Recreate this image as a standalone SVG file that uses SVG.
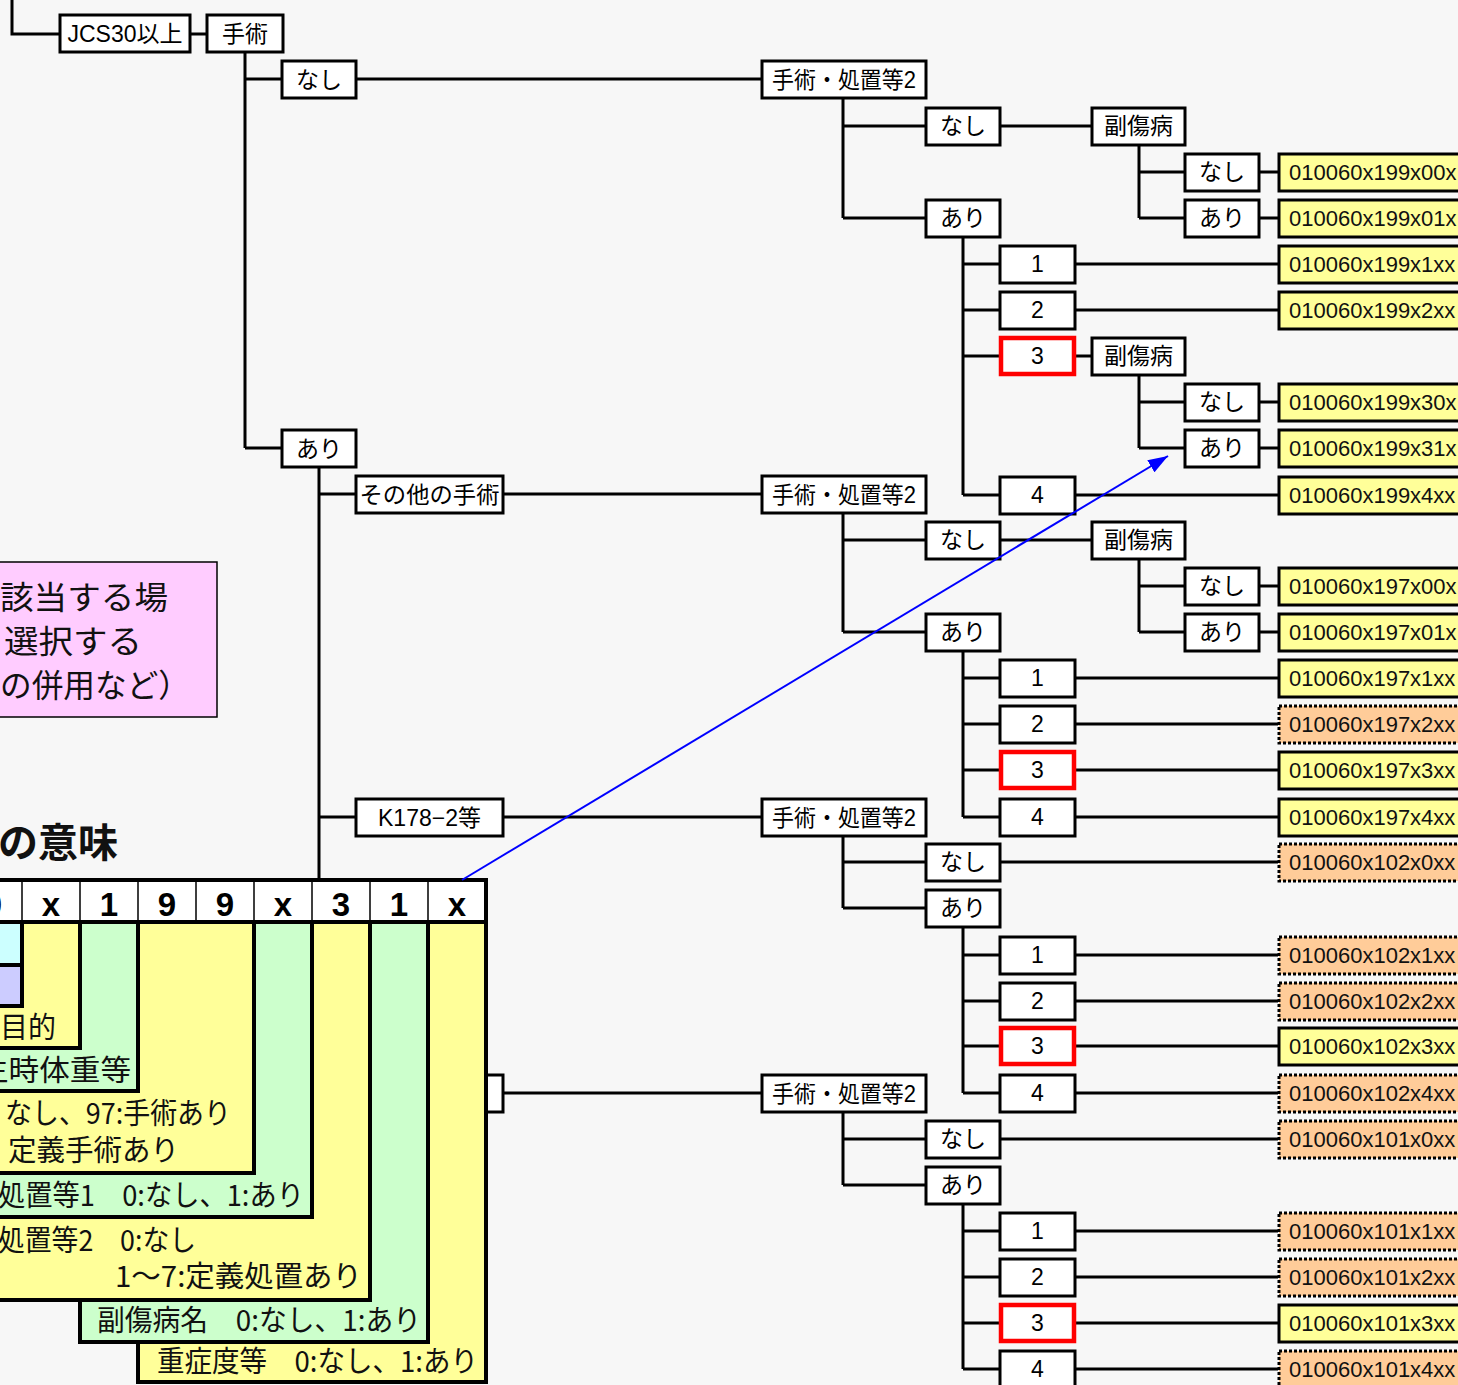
<svg xmlns="http://www.w3.org/2000/svg" width="1458" height="1385" viewBox="0 0 1458 1385">
<defs>
<style>
.bx{fill:#fff;stroke:#000;stroke-width:3}
.rd{fill:#fff;stroke:#f00;stroke-width:4.5}
.ry{fill:#ffff99;stroke:#000;stroke-width:3}
.ro{fill:#ffcc99;stroke:#000;stroke-width:3;stroke-dasharray:3 2}
.t{font-family:"Liberation Sans","Noto Sans CJK JP",sans-serif;font-size:23px;text-anchor:middle;fill:#000}
.rt{font-family:"Liberation Sans","Noto Sans CJK JP",sans-serif;font-size:22px;fill:#111}
.conn{stroke:#000;stroke-width:3;fill:none}
.tb{font-family:"Noto Sans CJK JP",sans-serif;font-size:29px;fill:#111}
.hd{font-family:"Liberation Sans",sans-serif;font-size:33px;font-weight:bold;text-anchor:middle;fill:#000}
.cy{fill:#ffff99;stroke:#000;stroke-width:4}
.cg{fill:#ccffcc;stroke:#000;stroke-width:4}
</style>
<marker id="ah" markerUnits="userSpaceOnUse" markerWidth="22" markerHeight="14" refX="20" refY="7" orient="auto">
<path d="M0,0 L20,7 L0,14 z" fill="#0000ff"/>
</marker>
</defs>
<rect x="0" y="0" width="1458" height="1385" fill="#f7f7f7"/>

<g id="connectors">
<path class="conn" d="M12,0 V34 H60 M190,34 H207
M245,52 V448 M245,79 H282 M245,448 H282 M356,79 H762
M843,98 V218 M843,126 H926 M843,218 H926 M1000,126 H1092
M1139,145 V218 M1139,172 H1185 M1139,218 H1185 M1259,172 H1278 M1259,218 H1278
M963,237 V495 M963,264 H1000 M963,310 H1000 M963,356 H1000 M963,495 H1000
M1075,264 H1278 M1075,310 H1278 M1075,495 H1278 M1075,356 H1092
M1139,374 V448 M1139,402 H1185 M1139,448 H1185 M1259,402 H1278 M1259,448 H1278
M319,467 V1093 M319,494 H356 M319,817 H356 M319,1093 H356
M503,494 H762 M503,817 H762 M503,1093 H762
M843,513 V632 M843,540 H926 M843,632 H926 M1000,540 H1092
M1139,559 V632 M1139,586 H1185 M1139,632 H1185 M1259,586 H1278 M1259,632 H1278
M963,651 V817 M963,678 H1000 M963,724 H1000 M963,770 H1000 M963,817 H1000
M1075,678 H1278 M1075,724 H1278 M1075,770 H1278 M1075,817 H1278
M843,836 V908 M843,862 H926 M843,908 H926 M1000,862 H1278
M963,927 V1093 M963,955 H1000 M963,1001 H1000 M963,1046 H1000 M963,1093 H1000
M1075,955 H1278 M1075,1001 H1278 M1075,1046 H1278 M1075,1093 H1278
M843,1112 V1185 M843,1139 H926 M843,1185 H926 M1000,1139 H1278
M963,1204 V1369 M963,1231 H1000 M963,1277 H1000 M963,1323 H1000 M963,1369 H1000
M1075,1231 H1278 M1075,1277 H1278 M1075,1323 H1278 M1075,1369 H1278"/>
</g>

<g id="n-jcs"><rect class="bx" x="60" y="15" width="130" height="37"/><text class="t" x="125" y="42">JCS30以上</text></g>
<g id="n-shujutsu"><rect class="bx" x="207" y="15" width="76" height="37"/><text class="t" x="245" y="42">手術</text></g>
<g id="n-op-nashi"><rect class="bx" x="282" y="61" width="74" height="37"/><text class="t" x="319" y="88">なし</text></g>
<g id="n-op-ari"><rect class="bx" x="282" y="430" width="74" height="37"/><text class="t" x="319" y="457">あり</text></g>
<g id="n-sonota"><rect class="bx" x="356" y="476" width="147" height="37"/><text class="t" x="429.5" y="503" textLength="140" lengthAdjust="spacingAndGlyphs">その他の手術</text></g>
<g id="n-k178"><rect class="bx" x="356" y="799" width="147" height="37"/><text class="t" x="429.5" y="826">K178−2等</text></g>
<g id="n-hidden"><rect class="bx" x="356" y="1075" width="147" height="37"/></g>

<!-- Tree A (199) -->
<g id="a-sh2"><rect class="bx" x="762" y="61" width="164" height="37"/><text class="t" x="844" y="88" textLength="144" lengthAdjust="spacingAndGlyphs">手術・処置等2</text></g>
<g id="a-nashi"><rect class="bx" x="926" y="108" width="74" height="37"/><text class="t" x="963" y="134">なし</text></g>
<g id="a-fuku1"><rect class="bx" x="1092" y="108" width="93" height="37"/><text class="t" x="1138.5" y="134">副傷病</text></g>
<g id="a-f1-nashi"><rect class="bx" x="1185" y="154" width="74" height="37"/><text class="t" x="1222" y="180">なし</text></g>
<g id="a-f1-ari"><rect class="bx" x="1185" y="200" width="74" height="37"/><text class="t" x="1222" y="226">あり</text></g>
<g id="a-ari"><rect class="bx" x="926" y="200" width="74" height="37"/><text class="t" x="963" y="226">あり</text></g>
<g id="a-1"><rect class="bx" x="1000" y="246" width="75" height="37"/><text class="t" x="1037.5" y="272">1</text></g>
<g id="a-2"><rect class="bx" x="1000" y="292" width="75" height="37"/><text class="t" x="1037.5" y="318">2</text></g>
<g id="a-3"><rect class="rd" x="1001" y="338" width="73" height="36"/><text class="t" x="1037.5" y="364">3</text></g>
<g id="a-fuku2"><rect class="bx" x="1092" y="338" width="93" height="37"/><text class="t" x="1138.5" y="364">副傷病</text></g>
<g id="a-f2-nashi"><rect class="bx" x="1185" y="384" width="74" height="37"/><text class="t" x="1222" y="410">なし</text></g>
<g id="a-f2-ari"><rect class="bx" x="1185" y="430" width="74" height="37"/><text class="t" x="1222" y="456">あり</text></g>
<g id="a-4"><rect class="bx" x="1000" y="477" width="75" height="37"/><text class="t" x="1037.5" y="503">4</text></g>
<g id="r-199-00x"><rect class="ry" x="1279" y="154" width="200" height="37"/><text class="rt" x="1289" y="180">010060x199x00x</text></g>
<g id="r-199-01x"><rect class="ry" x="1279" y="200" width="200" height="37"/><text class="rt" x="1289" y="226">010060x199x01x</text></g>
<g id="r-199-1xx"><rect class="ry" x="1279" y="246" width="200" height="37"/><text class="rt" x="1289" y="272">010060x199x1xx</text></g>
<g id="r-199-2xx"><rect class="ry" x="1279" y="292" width="200" height="37"/><text class="rt" x="1289" y="318">010060x199x2xx</text></g>
<g id="r-199-30x"><rect class="ry" x="1279" y="384" width="200" height="37"/><text class="rt" x="1289" y="410">010060x199x30x</text></g>
<g id="r-199-31x"><rect class="ry" x="1279" y="430" width="200" height="37"/><text class="rt" x="1289" y="456">010060x199x31x</text></g>
<g id="r-199-4xx"><rect class="ry" x="1279" y="477" width="200" height="37"/><text class="rt" x="1289" y="503">010060x199x4xx</text></g>

<!-- Tree B (197) -->
<g id="b-sh2"><rect class="bx" x="762" y="476" width="164" height="37"/><text class="t" x="844" y="503" textLength="144" lengthAdjust="spacingAndGlyphs">手術・処置等2</text></g>
<g id="b-nashi"><rect class="bx" x="926" y="522" width="74" height="37"/><text class="t" x="963" y="548">なし</text></g>
<g id="b-fuku"><rect class="bx" x="1092" y="522" width="93" height="37"/><text class="t" x="1138.5" y="548">副傷病</text></g>
<g id="b-f-nashi"><rect class="bx" x="1185" y="568" width="74" height="37"/><text class="t" x="1222" y="594">なし</text></g>
<g id="b-f-ari"><rect class="bx" x="1185" y="614" width="74" height="37"/><text class="t" x="1222" y="640">あり</text></g>
<g id="b-ari"><rect class="bx" x="926" y="614" width="74" height="37"/><text class="t" x="963" y="640">あり</text></g>
<g id="b-1"><rect class="bx" x="1000" y="660" width="75" height="37"/><text class="t" x="1037.5" y="686">1</text></g>
<g id="b-2"><rect class="bx" x="1000" y="706" width="75" height="37"/><text class="t" x="1037.5" y="732">2</text></g>
<g id="b-3"><rect class="rd" x="1001" y="752" width="73" height="36"/><text class="t" x="1037.5" y="778">3</text></g>
<g id="b-4"><rect class="bx" x="1000" y="799" width="75" height="37"/><text class="t" x="1037.5" y="825">4</text></g>
<g id="r-197-00x"><rect class="ry" x="1279" y="568" width="200" height="37"/><text class="rt" x="1289" y="594">010060x197x00x</text></g>
<g id="r-197-01x"><rect class="ry" x="1279" y="614" width="200" height="37"/><text class="rt" x="1289" y="640">010060x197x01x</text></g>
<g id="r-197-1xx"><rect class="ry" x="1279" y="660" width="200" height="37"/><text class="rt" x="1289" y="686">010060x197x1xx</text></g>
<g id="r-197-2xx"><rect class="ro" x="1279" y="706" width="200" height="37"/><text class="rt" x="1289" y="732">010060x197x2xx</text></g>
<g id="r-197-3xx"><rect class="ry" x="1279" y="752" width="200" height="37"/><text class="rt" x="1289" y="778">010060x197x3xx</text></g>
<g id="r-197-4xx"><rect class="ry" x="1279" y="799" width="200" height="37"/><text class="rt" x="1289" y="825">010060x197x4xx</text></g>

<!-- Tree C (102) -->
<g id="c-sh2"><rect class="bx" x="762" y="799" width="164" height="37"/><text class="t" x="844" y="826" textLength="144" lengthAdjust="spacingAndGlyphs">手術・処置等2</text></g>
<g id="c-nashi"><rect class="bx" x="926" y="844" width="74" height="37"/><text class="t" x="963" y="870">なし</text></g>
<g id="c-ari"><rect class="bx" x="926" y="890" width="74" height="37"/><text class="t" x="963" y="916">あり</text></g>
<g id="c-1"><rect class="bx" x="1000" y="937" width="75" height="37"/><text class="t" x="1037.5" y="963">1</text></g>
<g id="c-2"><rect class="bx" x="1000" y="983" width="75" height="37"/><text class="t" x="1037.5" y="1009">2</text></g>
<g id="c-3"><rect class="rd" x="1001" y="1028" width="73" height="36"/><text class="t" x="1037.5" y="1054">3</text></g>
<g id="c-4"><rect class="bx" x="1000" y="1075" width="75" height="37"/><text class="t" x="1037.5" y="1101">4</text></g>
<g id="r-102-0xx"><rect class="ro" x="1279" y="844" width="200" height="37"/><text class="rt" x="1289" y="870">010060x102x0xx</text></g>
<g id="r-102-1xx"><rect class="ro" x="1279" y="937" width="200" height="37"/><text class="rt" x="1289" y="963">010060x102x1xx</text></g>
<g id="r-102-2xx"><rect class="ro" x="1279" y="983" width="200" height="37"/><text class="rt" x="1289" y="1009">010060x102x2xx</text></g>
<g id="r-102-3xx"><rect class="ry" x="1279" y="1028" width="200" height="37"/><text class="rt" x="1289" y="1054">010060x102x3xx</text></g>
<g id="r-102-4xx"><rect class="ro" x="1279" y="1075" width="200" height="37"/><text class="rt" x="1289" y="1101">010060x102x4xx</text></g>

<!-- Tree D (101) -->
<g id="d-sh2"><rect class="bx" x="762" y="1075" width="164" height="37"/><text class="t" x="844" y="1102" textLength="144" lengthAdjust="spacingAndGlyphs">手術・処置等2</text></g>
<g id="d-nashi"><rect class="bx" x="926" y="1121" width="74" height="37"/><text class="t" x="963" y="1147">なし</text></g>
<g id="d-ari"><rect class="bx" x="926" y="1167" width="74" height="37"/><text class="t" x="963" y="1193">あり</text></g>
<g id="d-1"><rect class="bx" x="1000" y="1213" width="75" height="37"/><text class="t" x="1037.5" y="1239">1</text></g>
<g id="d-2"><rect class="bx" x="1000" y="1259" width="75" height="37"/><text class="t" x="1037.5" y="1285">2</text></g>
<g id="d-3"><rect class="rd" x="1001" y="1305" width="73" height="36"/><text class="t" x="1037.5" y="1331">3</text></g>
<g id="d-4"><rect class="bx" x="1000" y="1351" width="75" height="37"/><text class="t" x="1037.5" y="1377">4</text></g>
<g id="r-101-0xx"><rect class="ro" x="1279" y="1121" width="200" height="37"/><text class="rt" x="1289" y="1147">010060x101x0xx</text></g>
<g id="r-101-1xx"><rect class="ro" x="1279" y="1213" width="200" height="37"/><text class="rt" x="1289" y="1239">010060x101x1xx</text></g>
<g id="r-101-2xx"><rect class="ro" x="1279" y="1259" width="200" height="37"/><text class="rt" x="1289" y="1285">010060x101x2xx</text></g>
<g id="r-101-3xx"><rect class="ry" x="1279" y="1305" width="200" height="37"/><text class="rt" x="1289" y="1331">010060x101x3xx</text></g>
<g id="r-101-4xx"><rect class="ro" x="1279" y="1351" width="200" height="37"/><text class="rt" x="1289" y="1377">010060x101x4xx</text></g>

<!-- pink note -->
<g id="note">
<rect x="-40" y="562" width="257" height="155" fill="#ffccff" stroke="#000" stroke-width="1.5"/>
<g font-family="'Noto Sans CJK JP',sans-serif" font-size="32" fill="#111">
<text x="0" y="609" textLength="168" lengthAdjust="spacingAndGlyphs">該当する場</text>
<text x="4" y="653" textLength="138" lengthAdjust="spacingAndGlyphs">選択する</text>
<text x="0" y="697" textLength="190" lengthAdjust="spacingAndGlyphs">の併用など）</text>
</g>
</g>

<!-- title -->
<text x="118" y="857" font-family="'Noto Sans CJK JP',sans-serif" font-size="40" font-weight="bold" text-anchor="end" fill="#111">の意味</text>

<!-- code table -->
<g id="code-table">
<rect class="cy" x="138" y="922" width="348" height="460"/>
<rect class="cg" x="80" y="922" width="348" height="420"/>
<rect class="cy" x="-40" y="922" width="410" height="378"/>
<rect class="cg" x="-40" y="922" width="352" height="295"/>
<rect class="cy" x="-40" y="922" width="294" height="251"/>
<rect class="cg" x="-40" y="922" width="178" height="169"/>
<rect class="cy" x="-40" y="922" width="120" height="126"/>
<rect x="-40" y="922" width="62" height="43" fill="#ccffff" stroke="#000" stroke-width="4"/>
<rect x="-40" y="965" width="62" height="41" fill="#ccccff" stroke="#000" stroke-width="4"/>
<rect x="-40" y="880" width="526" height="42" fill="#fff" stroke="#000" stroke-width="4"/>
<path d="M22,880 V922 M80,880 V922 M138,880 V922 M196,880 V922 M254,880 V922 M312,880 V922 M370,880 V922 M428,880 V922" stroke="#000" stroke-width="1.5"/>
<text class="hd" x="-7" y="916">0</text>
<text class="hd" x="51" y="916">x</text>
<text class="hd" x="109" y="916">1</text>
<text class="hd" x="167" y="916">9</text>
<text class="hd" x="225" y="916">9</text>
<text class="hd" x="283" y="916">x</text>
<text class="hd" x="341" y="916">3</text>
<text class="hd" x="399" y="916">1</text>
<text class="hd" x="457" y="916">x</text>
<text class="tb" x="0" y="1038" textLength="56" lengthAdjust="spacingAndGlyphs">目的</text>
<text class="tb" x="-22" y="1081" textLength="153" lengthAdjust="spacingAndGlyphs">生時体重等</text>
<text class="tb" x="5" y="1124" font-size="26" textLength="226" lengthAdjust="spacingAndGlyphs">なし、97:手術あり</text>
<text class="tb" x="8" y="1161" font-size="26" textLength="171" lengthAdjust="spacingAndGlyphs">定義手術あり</text>
<text class="tb" x="-2" y="1206" textLength="306" lengthAdjust="spacingAndGlyphs">処置等1　0:なし、1:あり</text>
<text class="tb" x="-2" y="1251" textLength="198" lengthAdjust="spacingAndGlyphs">処置等2　0:なし</text>
<text class="tb" x="115" y="1287" textLength="247" lengthAdjust="spacingAndGlyphs">1～7:定義処置あり</text>
<text class="tb" x="97" y="1331" textLength="324" lengthAdjust="spacingAndGlyphs">副傷病名　0:なし、1:あり</text>
<text class="tb" x="157" y="1372" textLength="321" lengthAdjust="spacingAndGlyphs">重症度等　0:なし、1:あり</text>
</g>

<!-- blue arrow -->
<line x1="462" y1="880" x2="1168" y2="456" stroke="#0000ff" stroke-width="2" marker-end="url(#ah)"/>
</svg>
